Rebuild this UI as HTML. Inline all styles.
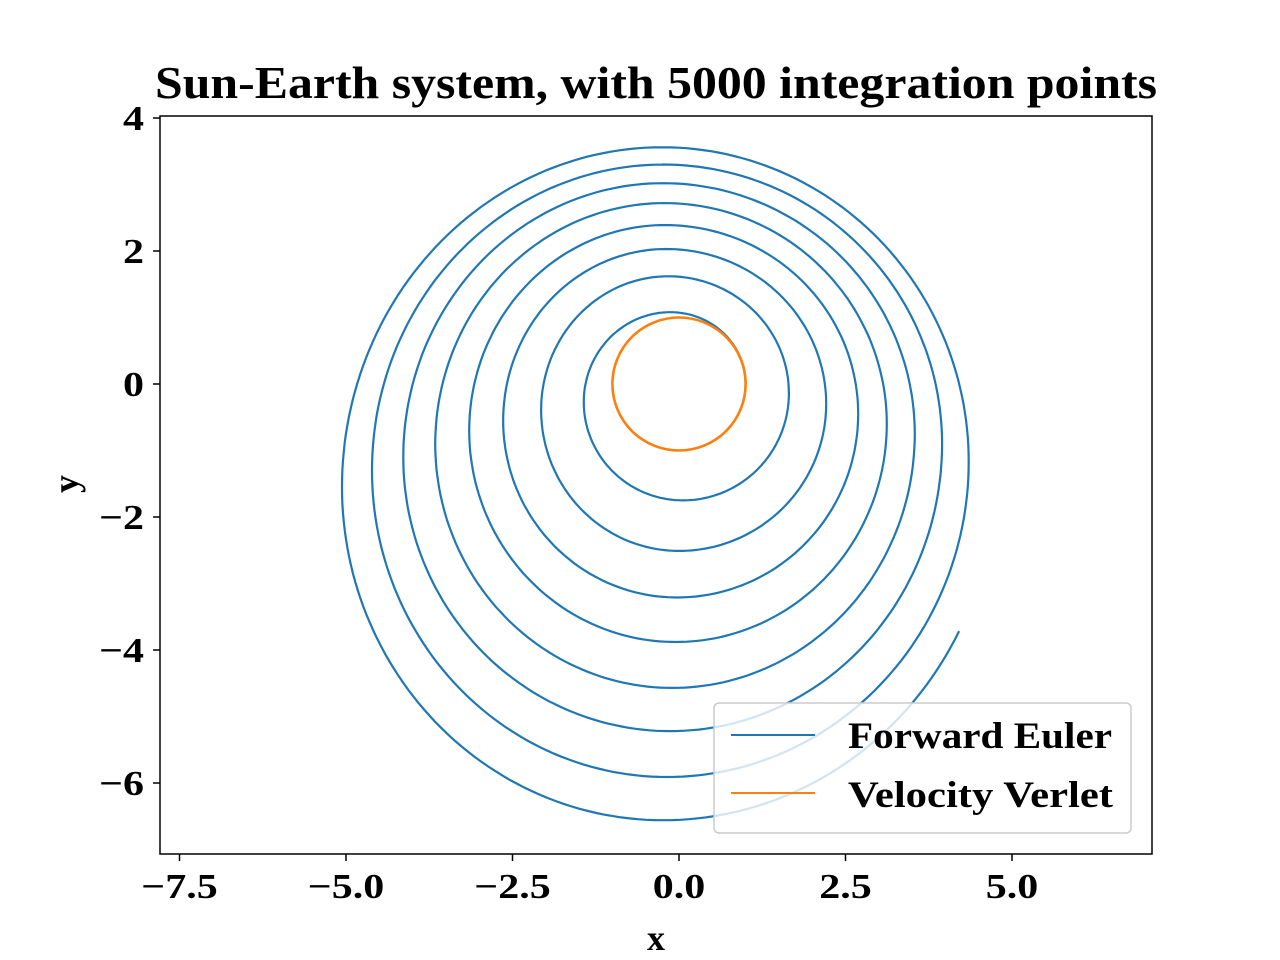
<!DOCTYPE html>
<html><head><meta charset="utf-8"><style>
body{margin:0;background:#fff;}
svg{display:block;font-family:"Liberation Serif",serif;font-weight:bold;}
</style></head><body>
<svg id="chart" width="1280" height="960">
<rect width="1280" height="960" fill="#fff"/>
<text x="656" y="98" font-size="45" text-anchor="middle" textLength="1002" lengthAdjust="spacingAndGlyphs">Sun-Earth system, with 5000 integration points</text>
<g id="plot"></g>
<rect x="160" y="116" width="992" height="738" fill="none" stroke="#000" stroke-width="1.5"/>
<g id="ticks"></g>
<text x="656" y="950" font-size="36" text-anchor="middle">x</text>
<text transform="translate(78,484) rotate(-90)" font-size="36" text-anchor="middle">y</text>
<g>
<rect x="714" y="703" width="417" height="130" rx="5" fill="#fff" fill-opacity="0.8" stroke="#ccc" stroke-width="1.5"/>
<line x1="731" y1="735" x2="815" y2="735" stroke="#1f77b4" stroke-width="2"/>
<text x="848" y="748" font-size="37" textLength="264" lengthAdjust="spacingAndGlyphs">Forward Euler</text>
<line x1="731" y1="793" x2="815" y2="793" stroke="#ff7f0e" stroke-width="2"/>
<text x="848" y="807" font-size="37" textLength="265" lengthAdjust="spacingAndGlyphs">Velocity Verlet</text>
</g>
</svg>
<script>
// Forward Euler spiral: extreme points of each quarter turn (counter-clockwise)
const rightX = [1.0, 1.65, 2.21, 2.69, 3.12, 3.54, 3.95, 4.35, 4.75];
const rightY = [0.0, -0.14, -0.30, -0.45, -0.60, -0.75, -0.90, -1.17, -1.35];
const topX = [-0.13, -0.16, -0.19, -0.21, -0.22, -0.24, -0.24, -0.25];
const topY = [1.08, 1.62, 2.03, 2.39, 2.72, 3.02, 3.30, 3.56];
const leftX = [-1.43, -2.07, -2.64, -3.15, -3.66, -4.14, -4.61, -5.06];
const leftY = [-0.27, -0.39, -0.55, -0.70, -0.90, -1.10, -1.30, -1.55];
const bottomX = [0.06, 0.0, -0.03, -0.05, -0.10, -0.13, -0.18, -0.24];
const bottomY = [-1.75, -2.51, -3.21, -3.88, -4.57, -5.22, -5.91, -6.56];
const lastFraction = 0.70;
const verletRadius = [1.0];
const xTicks = [-7.5, -5.0, -2.5, 0.0, 2.5, 5.0];
const xTickLabels = ["\u22127.5", "\u22125.0", "\u22122.5", "0.0", "2.5", "5.0"];
const yTicks = [4, 2, 0, -2, -4, -6];
const yTickLabels = ["4", "2", "0", "\u22122", "\u22124", "\u22126"];

const sx = v => 679 + v * 66.6;
const sy = v => 384 - v * 66.5;
const NS = "http://www.w3.org/2000/svg";
const plot = document.getElementById('plot');
const ticks = document.getElementById('ticks');

let pts = [];
function arc(ax, ay, bx, by, fromExtremeX, frac) {
  const n = 60;
  for (let i = 0; i <= n * frac; i++) {
    const t = (i / n) * Math.PI / 2;
    let x, y;
    if (fromExtremeX) { x = bx + (ax - bx) * Math.cos(t); y = ay + (by - ay) * Math.sin(t); }
    else { x = ax + (bx - ax) * Math.sin(t); y = by + (ay - by) * Math.cos(t); }
    pts.push([sx(x), sy(y)]);
  }
}
for (let k = 0; k < topX.length; k++) {
  arc(rightX[k], rightY[k], topX[k], topY[k], true, 1);
  arc(topX[k], topY[k], leftX[k], leftY[k], false, 1);
  arc(leftX[k], leftY[k], bottomX[k], bottomY[k], true, 1);
  const last = k === topX.length - 1;
  arc(bottomX[k], bottomY[k], rightX[k + 1], rightY[k + 1], false, last ? lastFraction : 1);
}
const euler = document.createElementNS(NS, 'path');
euler.setAttribute('d', 'M' + pts.map(p => p[0].toFixed(1) + ',' + p[1].toFixed(1)).join('L'));
euler.setAttribute('fill', 'none');
euler.setAttribute('stroke', '#1f77b4');
euler.setAttribute('stroke-width', '2.2');


plot.appendChild(euler);

const verlet = document.createElementNS(NS, 'ellipse');
verlet.setAttribute('cx', sx(0));
verlet.setAttribute('cy', sy(0));
verlet.setAttribute('rx', sx(verletRadius[0]) - sx(0));
verlet.setAttribute('ry', sy(0) - sy(verletRadius[0]));
verlet.setAttribute('fill', 'none');
verlet.setAttribute('stroke', '#ff7f0e');
verlet.setAttribute('stroke-width', '2.6');


plot.appendChild(verlet);

function widen(t) {
  const w = t.getComputedTextLength();
  t.setAttribute('textLength', (w * 1.2).toFixed(1));
  t.setAttribute('lengthAdjust', 'spacingAndGlyphs');
}
xTicks.forEach((v, i) => {
  const l = document.createElementNS(NS, 'line');
  l.setAttribute('x1', sx(v)); l.setAttribute('x2', sx(v));
  l.setAttribute('y1', 854); l.setAttribute('y2', 861);
  l.setAttribute('stroke', '#000'); l.setAttribute('stroke-width', '1.5');
  
  
  ticks.appendChild(l);
  const t = document.createElementNS(NS, 'text');
  t.setAttribute('x', sx(v)); t.setAttribute('y', 898);
  t.setAttribute('font-size', '35'); t.setAttribute('text-anchor', 'middle');
  t.textContent = xTickLabels[i];
  
  
  ticks.appendChild(t);
  widen(t);
});
yTicks.forEach((v, i) => {
  const l = document.createElementNS(NS, 'line');
  l.setAttribute('x1', 153); l.setAttribute('x2', 160);
  l.setAttribute('y1', sy(v)); l.setAttribute('y2', sy(v));
  l.setAttribute('stroke', '#000'); l.setAttribute('stroke-width', '1.5');
  
  
  ticks.appendChild(l);
  const t = document.createElementNS(NS, 'text');
  t.setAttribute('x', 144); t.setAttribute('y', sy(v) + 12);
  t.setAttribute('font-size', '35'); t.setAttribute('text-anchor', 'end');
  t.textContent = yTickLabels[i];
  
  
  ticks.appendChild(t);
  widen(t);
});
</script>
</body></html>
